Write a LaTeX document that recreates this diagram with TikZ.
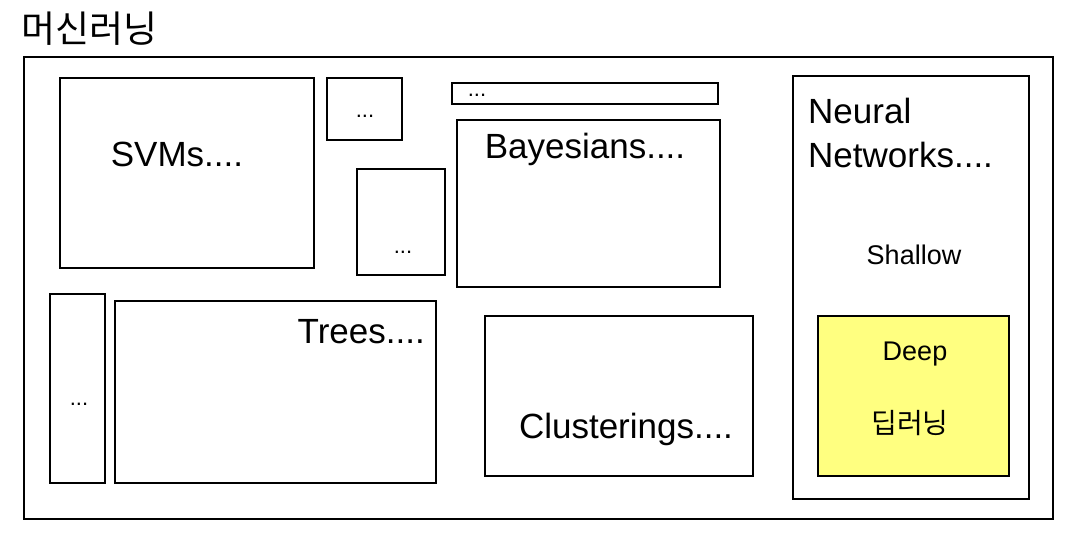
\documentclass[tikz,border=0pt]{standalone}
\usepackage{fontspec}
\setmainfont{Liberation Sans}
\newfontfamily\kofont{Noto Sans CJK KR}
\definecolor{deepyellow}{RGB}{255,255,128}
\tikzset{
  box/.style={draw=black,line width=2.6pt},
  big/.style={inner sep=0pt,font=\fontsize{35}{44}\selectfont},
  mid/.style={inner sep=0pt,font=\fontsize{27}{32}\selectfont},
  small/.style={inner sep=0pt,font=\fontsize{22}{26}\selectfont},
}
\begin{document}
\begin{tikzpicture}[x=1pt,y=-1pt]
\useasboundingbox (0,0) rectangle (1068,540);
%\draw [help lines,step=50] (0,0) grid (1068,540);
\node [inner sep=0pt,anchor=west,font=\kofont\fontsize{37}{42}\selectfont] (title) at (21,29) {머신러닝};
\draw [box] (24,57) rectangle (1053,519);
% left column
\draw [box] (60,78) rectangle (314,268);
\node [big] (svm) at (177,154) {SVMs....};
\draw [box] (50,294) rectangle (105,483);
\node [small,anchor=base] (dotsA) at (79,405) {...};
\draw [box] (115,301) rectangle (436,483);
\node [big,anchor=base east] (trees) at (425,343) {Trees....};
% middle
\draw [box] (327,78) rectangle (402,140);
\node [small,anchor=base] (dotsB) at (365,118) {...};
\draw [box] (357,169) rectangle (445,275);
\node [small,anchor=base] (dotsC) at (403,254) {...};
\draw [box] (452,83) rectangle (718,104);
\node [small,anchor=base] (dotsD) at (477,97) {...};
\draw [box] (457,120) rectangle (720,287);
\node [big,anchor=base] (bayes) at (585,159) {Bayesians....};
\draw [box] (485,316) rectangle (753,476);
\node [big,anchor=base] (cluster) at (626,438) {Clusterings....};
% neural networks
\draw [box] (793,76) rectangle (1029,499);
\node [big,anchor=north west,align=left] (nn) at (808,98) {Neural\\Networks....};
\node [mid] (shallow) at (914,255) {Shallow};
\draw [box,fill=deepyellow] (818,316) rectangle (1009,476);
\node [mid,anchor=base] (deep) at (915,360) {Deep};
\node [mid,font=\kofont\fontsize{28}{32}\selectfont] (deepko) at (910,423) {딥러닝};
\end{tikzpicture}
\end{document}
